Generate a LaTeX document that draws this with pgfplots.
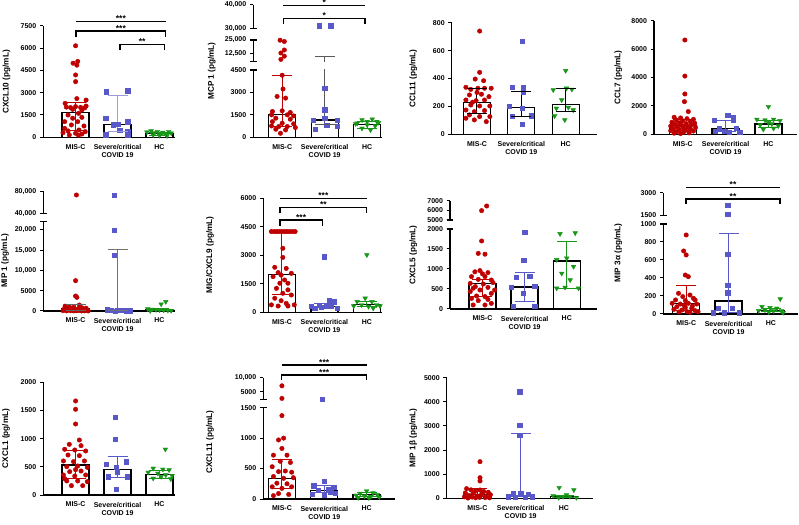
\documentclass[border=0pt]{standalone}
\usepackage{fontspec}
\setmainfont{Liberation Sans}
\usepackage{pgfplots}
\pgfplotsset{compat=1.18}
\definecolor{cR}{RGB}{190,0,0}
\definecolor{cB}{RGB}{88,88,200}
\definecolor{cG}{RGB}{24,150,24}
\newcommand{\fs}{\fontsize{7}{8}\selectfont\bfseries}
\newcommand{\fl}{\fontsize{8.2}{9}\selectfont\bfseries}
\newcommand{\fst}{\fontsize{8.5}{9}\selectfont\bfseries}
\def\segLo{0}\def\segHi{1}
\newif\ifbars
\pgfplotsset{
 base/.style={scale only axis, anchor=south west, axis y line*=left,
   axis line style={line width=1.2pt}, major tick style={line width=1pt, black},
   major tick length=3.5pt, tick align=outside, tick label style={font=\fs},
   scaled y ticks=false, xtick style={draw=none},
   /pgf/number format/assume math mode=true, /pgf/number format/1000 sep={}, clip=true},
 bot/.style={base, axis x line*=bottom, xtick={1,2,3},
   xticklabels={MIS-C,{Severe/critical\\COVID 19},HC}, xticklabel style={align=center}},
 topseg/.style={base, axis x line=none, xtick=\empty},
 barS/.style={ybar, bar width=27pt, bar shift=0pt, fill=white, draw=black, line width=1.3pt},
 mR/.style={only marks, mark=*, mark size=2.25pt, color=cR, restrict y to domain=\segLo:\segHi},
 mB/.style={only marks, mark=square*, mark size=2.1pt, color=cB, restrict y to domain=\segLo:\segHi},
 mG/.style={only marks, mark=triangle*, mark size=2.7pt, mark options={rotate=180}, color=cG, restrict y to domain=\segLo:\segHi},
}
\newcommand{\eb}[4]{%
 \addplot[#4, line width=1pt] coordinates {(#1,#2)(#1,#3)};
 \addplot[#4, only marks, mark=-, mark size=10pt, mark options={line width=1pt}, restrict y to domain=\segLo:\segHi] coordinates {(#1,#2)(#1,#3)};
}
% CXCL10
\newcommand{\PA}{%
\ifbars\addplot[barS] coordinates {(1,1680)(2,870)(3,270)};\fi
\addplot[mR] coordinates {(1.00,6150)(1.05,5100)(0.94,4980)(1.03,4850)(1.00,4190)(1.00,3740)(1.03,2600)(1.25,2500)(0.75,2280)(1.25,2100)(0.78,2030)(0.88,2000)(1.00,2060)(1.12,2010)(1.22,1980)(0.93,1880)(1.15,1840)(1.07,1610)(0.82,1500)(0.93,1280)(1.15,1340)(0.74,1050)(1.05,1050)(0.90,830)(1.20,760)(0.74,600)(1.08,490)(0.82,430)(1.23,380)(0.70,310)(1.00,270)(1.15,220)(0.85,160)(1.07,130)};
\addplot[mB] coordinates {(1.73,3070)(2.24,3130)(1.72,1280)(2.24,1050)(2.02,900)(1.90,850)(2.05,450)(2.24,420)(1.72,180)(2.24,150)};
\addplot[mG] coordinates {(2.70,350)(2.80,420)(2.88,300)(2.95,380)(3.02,250)(3.08,330)(3.15,200)(3.22,380)(3.28,280)(2.85,150)(3.00,120)(3.18,100)};
\eb{1}{450}{2350}{cR}
\eb{2}{420}{2800}{cB!60}
\eb{3}{150}{350}{cG}
}
% MCP1
\newcommand{\PB}{%
\ifbars\addplot[barS] coordinates {(1,1520)(2,1150)(3,850)};\fi
\addplot[mR] coordinates {(0.95,24800)(1.05,23600)(1.05,15600)(0.97,12800)(1.05,9800)(0.97,6800)(1.00,4150)(1.02,3230)(0.88,2730)(1.08,2620)(0.77,1725)(1.00,1770)(1.19,1660)(0.75,1500)(1.12,1500)(1.27,1430)(0.85,1280)(1.19,1210)(0.77,1050)(1.00,940)(1.27,900)(0.75,760)(0.92,720)(1.12,720)(1.31,650)(0.85,540)(1.08,490)(0.96,270)};
\addplot[mB] coordinates {(1.88,31080)(2.14,31080)(2.00,3290)(2.00,1840)(2.00,1280)(1.73,1160)(2.30,1160)(2.05,830)(2.30,760)(1.77,540)};
\addplot[mG] coordinates {(2.88,1160)(3.12,1210)(3.00,1050)(3.23,1050)(2.77,940)(3.00,830)(3.19,760)(2.88,600)(3.08,490)(2.73,900)(3.27,980)};
\eb{1}{750}{4100}{cR}
\eb{2}{850}{9400}{black!65}
\eb{3}{620}{1050}{cG}
}
% CCL11
\newcommand{\PC}{%
\ifbars\addplot[barS] coordinates {(1,230)(2,190)(3,215)};\fi
\addplot[mR] coordinates {(1.06,740)(1.06,444)(0.96,396)(1.15,384)(0.75,337)(0.86,322)(1.02,330)(1.17,330)(1.32,330)(0.83,282)(1.10,287)(1.27,270)(0.75,246)(0.98,241)(1.17,246)(0.86,210)(1.06,203)(1.29,203)(0.75,174)(0.94,162)(1.17,170)(0.83,139)(1.06,127)(1.29,127)(0.94,103)(1.21,91)(0.75,115)(1.00,300)(0.90,230)};
\addplot[mB] coordinates {(2.02,669)(1.79,337)(2.05,337)(2.04,301)(1.72,203)(2.02,186)(2.23,134)(1.80,131)(2.02,72)};
\addplot[mG] coordinates {(3.00,456)(2.72,318)(3.02,330)(3.14,322)(2.91,246)(2.79,186)(3.06,193)(3.17,174)(2.75,131)(2.98,103)};
\eb{1}{150}{330}{black}
\eb{2}{130}{310}{black}
\eb{3}{160}{325}{black}
}
% CCL7
\newcommand{\PD}{%
\ifbars\addplot[barS] coordinates {(1,600)(2,420)(3,730)};\fi
\addplot[mR] coordinates {(1.05,6640)(1.05,4100)(1.05,2840)(1.04,2300)(1.13,1600)(0.80,1200)(0.95,1150)(1.10,1100)(1.25,1050)(0.85,1000)(1.00,950)(1.18,900)(0.75,850)(0.92,800)(1.28,780)(1.08,750)(0.82,700)(1.20,650)(0.98,620)(0.72,580)(1.12,550)(0.88,500)(1.30,480)(1.02,450)(0.78,400)(1.18,380)(0.92,330)(1.08,300)(0.72,260)(1.25,230)(0.85,180)(1.02,150)(1.15,100)(0.80,80)(0.95,50)};
\addplot[mB] coordinates {(2.05,1360)(2.17,1200)(1.74,1000)(2.17,1000)(1.86,420)(2.25,420)(1.75,190)(1.98,190)(2.33,120)(2.09,120)};
\addplot[mG] coordinates {(3.00,1950)(2.73,1050)(2.92,1000)(3.12,1050)(3.27,960)(2.81,660)(3.08,730)(3.23,590)(2.88,350)(3.12,420)(3.00,820)};
\eb{1}{280}{1050}{cR}
\eb{2}{180}{1000}{cB}
\eb{3}{480}{1000}{cG}
}
% MIP1
\newcommand{\PE}{%
\ifbars\addplot[barS] coordinates {(1,500)(2,200)(3,300)};\fi
\addplot[mR] coordinates {(1.02,73300)(1.00,7490)(1.00,3700)(1.03,3370)(1.09,1480)(0.75,1200)(0.85,1000)(0.95,900)(1.15,800)(1.25,700)(0.78,600)(0.90,550)(1.05,500)(1.20,450)(0.72,400)(0.98,350)(1.12,300)(1.28,250)(0.82,200)(0.93,180)(1.08,150)(1.18,120)(0.70,100)(0.88,80)(1.02,60)(1.22,50)(0.78,40)(0.96,30)(1.14,20)(1.30,20)};
\addplot[mB] coordinates {(1.92,73300)(1.92,20000)(1.92,13830)(1.75,300)(1.85,200)(2.00,150)(2.10,100)(2.22,80)(2.30,50)(1.95,30)};
\addplot[mG] coordinates {(3.15,2300)(3.04,1700)(2.72,500)(2.82,400)(2.92,300)(3.00,250)(3.10,200)(3.20,150)(3.28,100)(2.78,50)};
\eb{1}{100}{1700}{black!60}
\eb{2}{50}{15300}{black!55}
\eb{3}{150}{600}{cG}
}
% MIG/CXCL9
\newcommand{\PF}{%
\ifbars\addplot[barS] coordinates {(1,2000)(2,310)(3,400)};\fi
\addplot[mR] coordinates {(0.75,4250)(0.82,4250)(0.88,4250)(0.94,4250)(1.00,4250)(1.06,4250)(1.12,4250)(1.18,4250)(1.25,4250)(1.31,4250)(1.02,3370)(1.02,2890)(0.83,2370)(1.10,2310)(0.91,2090)(1.22,2050)(0.98,1960)(0.79,1880)(1.06,1700)(0.95,1530)(1.14,1530)(0.87,1260)(1.14,1180)(1.02,1000)(1.22,910)(0.83,740)(0.98,610)(1.10,470)(0.75,390)(1.29,390)(0.91,330)(1.14,330)};
\addplot[mB] coordinates {(2.00,2930)(2.12,610)(2.23,560)(1.88,390)(1.69,300)(2.04,300)(2.31,210)(1.77,210)(1.92,260)(2.15,330)};
\addplot[mG] coordinates {(3.00,3020)(2.96,740)(2.77,560)(3.12,560)(3.23,390)(2.88,390)(2.69,330)(3.04,300)(3.31,330)(3.15,210)};
\eb{1}{950}{4250}{cR}
\eb{2}{230}{480}{cB}
\eb{3}{310}{580}{cG}
}
% CXCL5
\newcommand{\PG}{%
\ifbars\addplot[barS] coordinates {(1,630)(2,550)(3,1200)};\fi
\addplot[mR] coordinates {(1.10,6450)(0.98,5970)(0.98,1700)(0.90,1390)(1.06,1370)(0.94,960)(0.82,930)(1.13,910)(0.74,810)(1.06,810)(0.90,740)(1.21,725)(0.71,640)(1.02,625)(1.25,660)(0.83,560)(1.13,540)(0.94,475)(0.71,435)(1.21,390)(0.86,325)(1.06,310)(0.74,265)(1.13,240)(0.90,210)(0.78,100)(1.06,100)(1.21,140)(1.29,475)(0.78,520)(1.00,880)};
\addplot[mB] coordinates {(2.00,1920)(1.98,1210)(1.80,790)(2.12,810)(1.68,540)(2.24,560)(1.96,390)(1.72,75)(2.24,75)};
\addplot[mG] coordinates {(2.84,1880)(3.20,1900)(3.00,1270)(2.76,1230)(3.16,1060)(2.88,890)(3.08,725)(2.76,520)(3.28,520)(2.96,540)};
\eb{1}{310}{730}{cR}
\eb{2}{180}{920}{cB}
\eb{3}{510}{1680}{cG}
}
% MIP3a
\newcommand{\PH}{%
\ifbars\addplot[barS] coordinates {(1,120)(2,145)(3,40)};\fi
\addplot[mR] coordinates {(1.00,878)(0.94,700)(1.00,656)(0.98,433)(1.05,415)(0.82,230)(1.09,211)(0.92,193)(1.17,174)(0.75,156)(0.98,148)(1.21,156)(0.67,119)(0.86,111)(1.05,119)(1.25,111)(0.78,81)(0.98,74)(1.13,63)(0.71,52)(0.90,44)(1.21,37)(1.02,26)(0.83,22)(1.09,19)(1.28,26)(0.95,95)(1.15,90)};
\addplot[mB] coordinates {(1.98,2184)(1.98,1588)(1.98,667)(1.98,322)(1.98,237)(1.75,63)(2.09,63)(1.63,15)(2.25,15)(1.90,15)};
\addplot[mG] coordinates {(3.22,167)(2.79,81)(2.98,70)(3.14,63)(2.86,44)(3.06,33)(3.25,33)(2.71,37)(2.95,22)(3.29,15)};
\eb{1}{40}{320}{cR}
\eb{2}{20}{890}{cB}
\eb{3}{25}{65}{cG}
}
% CXCL1
\newcommand{\PI}{%
\ifbars\addplot[barS] coordinates {(1,530)(2,450)(3,360)};\fi
\addplot[mR] coordinates {(1.00,1669)(1.00,1521)(1.00,1260)(1.09,976)(0.85,899)(1.13,876)(0.74,811)(0.98,799)(1.24,781)(0.82,710)(1.09,698)(0.71,604)(0.95,592)(1.21,604)(0.79,503)(1.05,515)(1.28,491)(0.86,414)(1.13,426)(0.71,355)(0.98,337)(1.24,355)(0.79,249)(1.05,249)(1.28,237)(0.90,166)(1.17,166)(0.74,290)(1.00,450)};
\addplot[mB] coordinates {(1.95,1379)(1.95,988)(1.73,550)(2.21,592)(1.96,491)(2.00,414)(1.77,325)(2.23,325)(1.96,101)};
\addplot[mG] coordinates {(3.14,811)(2.85,473)(3.08,456)(3.23,444)(2.73,402)(2.96,385)(3.15,355)(3.30,343)(2.85,296)(3.27,284)(3.04,325)};
\eb{1}{300}{790}{cR}
\eb{2}{310}{690}{cB}
\eb{3}{300}{440}{cG}
}
% CXCL11
\newcommand{\PJ}{%
\ifbars\addplot[barS] coordinates {(1,340)(2,140)(3,70)};\fi
\addplot[mR] coordinates {(1.00,7100)(1.00,2600)(1.00,1370)(1.04,1000)(0.92,970)(1.00,830)(0.80,720)(1.12,720)(0.96,620)(1.20,600)(0.77,530)(1.08,460)(0.92,450)(1.23,440)(0.80,370)(1.04,340)(1.27,350)(0.88,260)(1.12,250)(0.77,200)(1.00,175)(1.23,200)(0.92,90)(1.16,75)(0.80,55)};
\addplot[mB] coordinates {(1.95,2400)(2.00,290)(2.22,200)(1.75,220)(2.10,160)(1.85,140)(2.25,100)(1.72,80)(2.00,60)(2.15,120)};
\addplot[mG] coordinates {(3.00,130)(2.85,90)(3.15,100)(3.25,70)(2.75,60)(2.95,50)(3.10,40)(3.30,30)(2.80,20)(3.05,20)};
\eb{1}{180}{650}{cR}
\eb{2}{100}{230}{cB}
\eb{3}{40}{110}{cG}
}
% MIP1b
\newcommand{\PK}{%
\ifbars\addplot[barS] coordinates {(1,150)(2,100)(3,80)};\fi
\addplot[mR] coordinates {(1.06,1519)(1.06,856)(1.06,718)(1.06,345)(0.75,400)(0.85,350)(0.95,300)(1.15,280)(1.25,250)(0.72,220)(0.90,200)(1.10,180)(1.30,150)(0.80,120)(1.00,100)(1.20,80)(0.70,60)(0.88,50)(1.05,40)(1.18,30)(1.28,20)(0.96,20)(0.78,10)};
\addplot[mB] coordinates {(1.98,4420)(1.98,3040)(1.98,2620)(1.82,207)(2.00,207)(2.17,166)(1.71,69)(2.27,69)(1.88,60)(2.10,60)};
\addplot[mG] coordinates {(2.89,442)(3.23,345)(2.75,110)(2.98,69)(3.14,69)(3.29,28)(2.88,28)(3.06,138)};
\eb{1}{60}{390}{cR}
\eb{2}{60}{2700}{cB}
\eb{3}{40}{120}{cG}
}
\newcommand{\flatb}[4]{\draw[line width=1.1pt] (#1,#3)--(#2,#3); \node[font=\fst,anchor=base,inner sep=0pt] at ({(#1+#2)/2},{#3-0.2}) {#4};}
\newcommand{\brk}[5]{\draw[line width=1.1pt] (#1,#4)--(#1,#3)--(#2,#3)--(#2,#4); \node[font=\fst,anchor=base,inner sep=0pt] at ({(#1+#2)/2},{#3-0.2}) {#5};}
\newcommand{\bm}[2]{\draw[line width=1.2pt] ({#1-3.3},#2)--({#1+3.3},#2);}
\begin{document}
\begin{tikzpicture}[x=1pt,y=1pt]
\useasboundingbox (0,0) rectangle (799,524);
% ---- Row 1
\barstrue
\def\segLo{0}\def\segHi{7500}
\begin{axis}[bot, at={(43.3pt,386.7pt)}, width=131.7pt, height=111.6pt, xmin=0.23, xmax=3.37, ymin=0, ymax=7500, ytick={0,1500,...,7500}]
\PA
\end{axis}
\def\segLo{0}\def\segHi{4500}
\begin{axis}[bot, at={(253.3pt,386.7pt)}, width=128.7pt, height=67.3pt, xmin=0.32, xmax=3.35, ymin=0, ymax=4500, ytick={0,1500,3000,4500}]
\PB
\end{axis}
\barsfalse
\def\segLo{4625}\def\segHi{25000}
\begin{axis}[topseg, at={(253.3pt,462.3pt)}, width=128.7pt, height=21.7pt, xmin=0.32, xmax=3.35, ymin=4625, ymax=25000, ytick={12500,25000}, yticklabels={{12,500},{25,000}}]
\PB
\end{axis}
\def\segLo{30000}\def\segHi{40000}
\begin{axis}[topseg, at={(253.3pt,495.7pt)}, width=128.7pt, height=23.3pt, xmin=0.32, xmax=3.35, ymin=30000, ymax=40000, ytick={30000,40000}, yticklabels={{30,000},{40,000}}]
\PB
\end{axis}
\barstrue
\def\segLo{0}\def\segHi{800}
\begin{axis}[bot, at={(451.7pt,389.7pt)}, width=145pt, height=111.6pt, xmin=0.43, xmax=3.7, ymin=0, ymax=800, ytick={0,200,...,800}]
\PC
\end{axis}
\def\segLo{0}\def\segHi{8000}
\begin{axis}[bot, at={(654pt,389.7pt)}, width=142.7pt, height=113.6pt, xmin=0.33, xmax=3.66, ymin=0, ymax=8000, ytick={0,2000,...,8000}]
\PD
\end{axis}
% ---- Row 2
\def\segLo{0}\def\segHi{22050}
\begin{axis}[bot, at={(43.3pt,213pt)}, width=131.7pt, height=89.3pt, xmin=0.23, xmax=3.37, ymin=0, ymax=22050, ytick={0,5000,10000,15000,20000}, yticklabels={0,5000,{10,000},{15,000},{20,000}}]
\PE
\end{axis}
\barsfalse
\def\segLo{40000}\def\segHi{80000}
\begin{axis}[topseg, at={(43.3pt,310.7pt)}, width=131.7pt, height=22pt, xmin=0.23, xmax=3.37, ymin=40000, ymax=80000, ytick={40000,80000}, yticklabels={{40,000},{80,000}}]
\PE
\end{axis}
\barstrue
\def\segLo{0}\def\segHi{6000}
\begin{axis}[bot, at={(263.3pt,211.7pt)}, width=118.4pt, height=114pt, xmin=0.56, xmax=3.35, ymin=0, ymax=6000, ytick={0,1500,...,6000}]
\PF
\end{axis}
\def\segLo{0}\def\segHi{2000}
\begin{axis}[bot, at={(450pt,215pt)}, width=146.7pt, height=80pt, xmin=0.23, xmax=3.71, ymin=0, ymax=2000, ytick={0,500,...,2000}]
\PG
\end{axis}
\barsfalse
\def\segLo{5000}\def\segHi{7000}
\begin{axis}[topseg, at={(450pt,304pt)}, width=146.7pt, height=19.3pt, xmin=0.23, xmax=3.71, ymin=5000, ymax=7000, ytick={5000,6000,7000}]
\PG
\end{axis}
\barstrue
\def\segLo{0}\def\segHi{1000}
\begin{axis}[bot, at={(663.3pt,210pt)}, width=134.7pt, height=90pt, xmin=0.46, xmax=3.64, ymin=0, ymax=1000, ytick={0,200,...,1000}]
\PH
\end{axis}
\barsfalse
\def\segLo{1500}\def\segHi{3000}
\begin{axis}[topseg, at={(663.3pt,308.7pt)}, width=134.7pt, height=22.6pt, xmin=0.46, xmax=3.64, ymin=1500, ymax=3000, ytick={1500,3000}]
\PH
\end{axis}
% ---- Row 3
\barstrue
\def\segLo{0}\def\segHi{2000}
\begin{axis}[bot, at={(43.3pt,29pt)}, width=131.7pt, height=112.7pt, xmin=0.23, xmax=3.37, ymin=0, ymax=2000, ytick={0,500,...,2000}]
\PI
\end{axis}
\def\segLo{0}\def\segHi{1500}
\begin{axis}[bot, at={(263.3pt,25pt)}, width=131.7pt, height=91.3pt, xmin=0.56, xmax=3.67, ymin=0, ymax=1500, ytick={0,500,1000,1500}]
\PJ
\end{axis}
\barsfalse
\def\segLo{2286}\def\segHi{10000}
\begin{axis}[topseg, at={(263.3pt,124.7pt)}, width=131.7pt, height=21.6pt, xmin=0.56, xmax=3.67, ymin=2286, ymax=10000, ytick={5000,10000}, yticklabels={5000,{10,000}}]
\PJ
\end{axis}
\barstrue
\def\segLo{0}\def\segHi{5000}
\begin{axis}[bot, at={(446.7pt,25.7pt)}, width=146.6pt, height=120.6pt, xmin=0.29, xmax=3.68, ymin=0, ymax=5000, ytick={0,1000,...,5000}]
\PK
\end{axis}
% ---- break marks
\bm{253.3}{454}\bm{253.3}{462.3}\bm{253.3}{484}\bm{253.3}{495.7}
\bm{43.3}{302.3}\bm{43.3}{310.7}
\bm{450}{295}\bm{450}{304}
\bm{663.3}{300}\bm{663.3}{308.7}
\bm{263.3}{116.3}\bm{263.3}{124.7}
% ---- significance brackets
\flatb{76}{165.7}{502.3}{***}
\brk{76}{165.7}{493}{486.7}{***}
\brk{120}{164.3}{479.7}{474}{**}
\flatb{283.3}{365}{518.3}{*}
\brk{283.3}{365}{505.7}{500}{*}
\flatb{280}{366.7}{325.7}{***}
\brk{280}{366.7}{316.3}{310.7}{**}
\brk{280}{322.3}{304}{298}{***}
\flatb{686}{780}{336.7}{**}
\brk{686}{780}{325}{320}{**}
\flatb{281.7}{366.7}{159}{***}
\brk{281.7}{366.7}{149}{144}{***}
% ---- y labels
\node[rotate=90,font=\fl] at (6.5,442) {CXCL10 (pg/mL)};
\node[rotate=90,font=\fl] at (211.7,453) {MCP 1 (pg/mL)};
\node[rotate=90,font=\fl] at (413.3,445.5) {CCL11 (pg/mL)};
\node[rotate=90,font=\fl] at (618.3,446.5) {CCL7 (pg/mL)};
\node[rotate=90,font=\fl] at (5,263) {MIP 1 (pg/mL)};
\node[rotate=90,font=\fl] at (210,269) {MIG/CXCL9 (pg/mL)};
\node[rotate=90,font=\fl] at (413.3,269) {CXCL5 (pg/mL)};
\node[rotate=90,font=\fl] at (618.3,271) {MIP 3α (pg/mL)};
\node[rotate=90,font=\fl] at (6,85.5) {CXCL1 (pg/mL)};
\node[rotate=90,font=\fl] at (210,82) {CXCL11 (pg/mL)};
\node[rotate=90,font=\fl] at (413.3,86) {MIP 1β (pg/mL)};
\end{tikzpicture}
\end{document}
